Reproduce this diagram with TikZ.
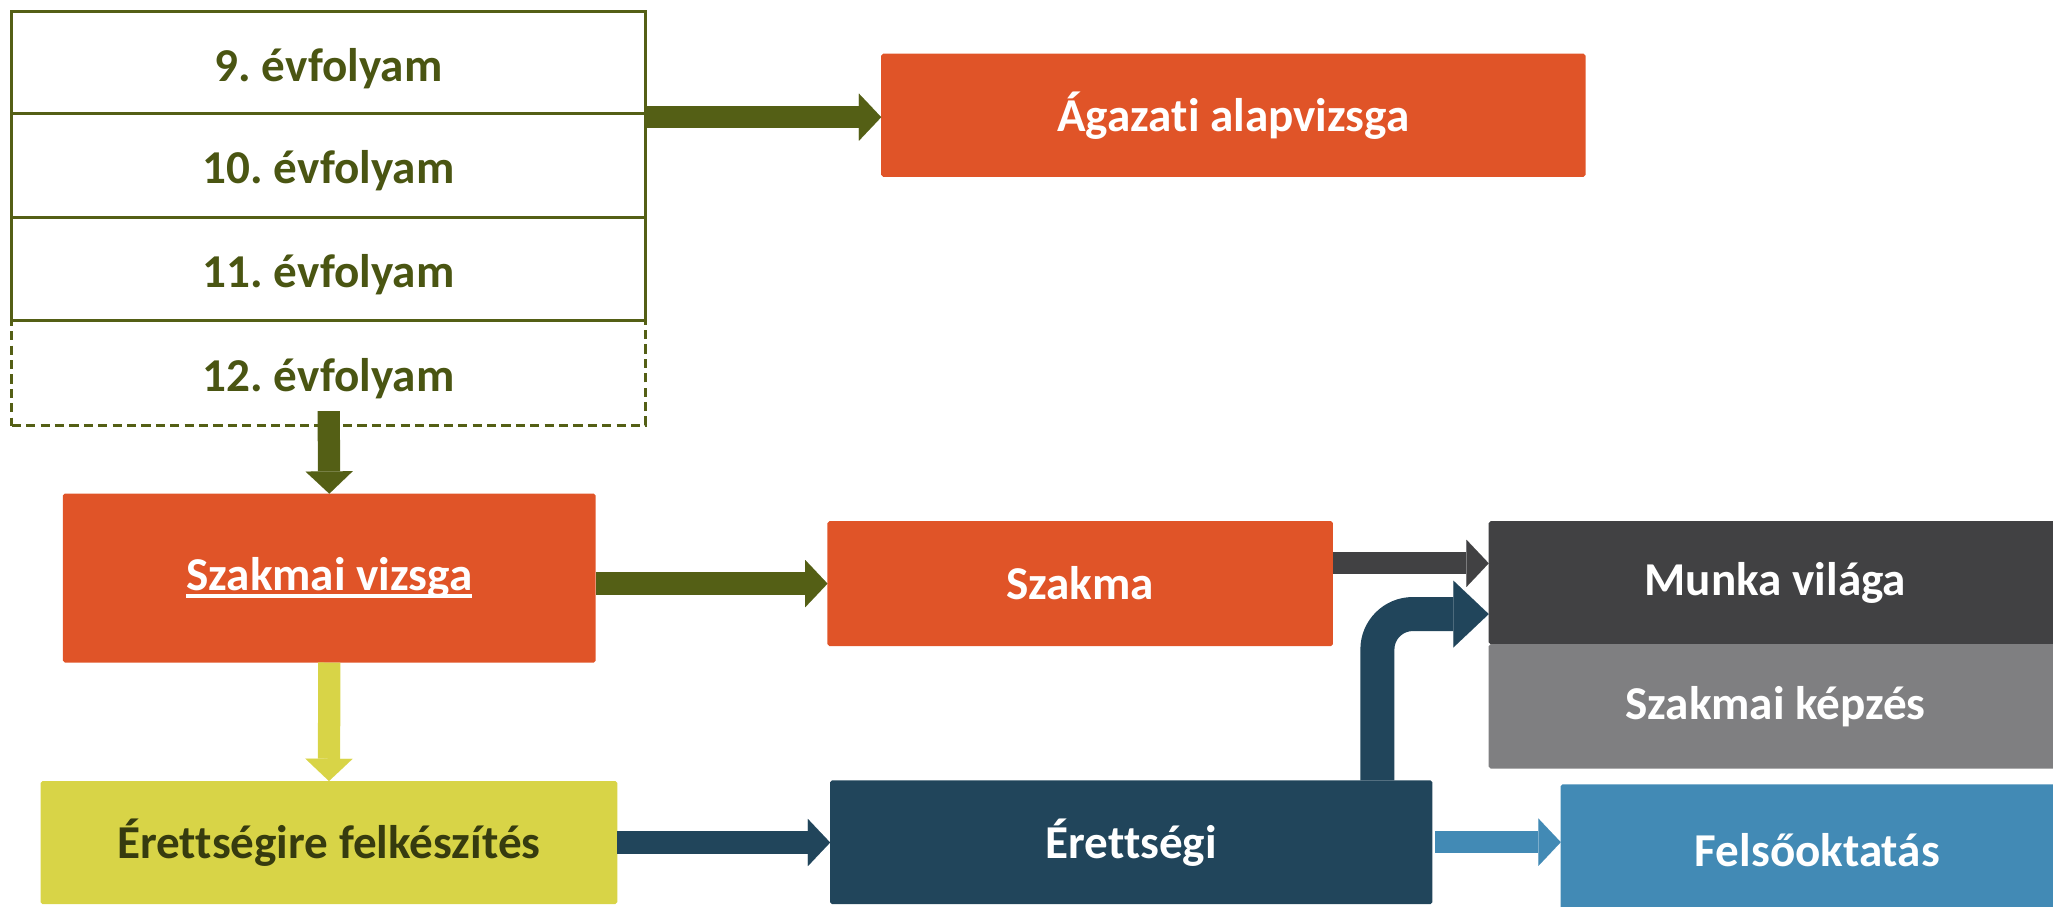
\documentclass[tikz,border=0pt]{standalone}
\usepackage{fontspec}
\setmainfont{Carlito}[Ligatures=NoCommon]
\usetikzlibrary{arrows.meta,calc}
\definecolor{olivec}{HTML}{545F15}
\definecolor{olivetext}{HTML}{4A5512}
\definecolor{orangec}{HTML}{E05428}
\definecolor{yellowc}{HTML}{D8D447}
\definecolor{yeltext}{HTML}{363B0F}
\definecolor{navyc}{HTML}{21455B}
\definecolor{darkg}{HTML}{414143}
\definecolor{midg}{HTML}{7F7F81}
\definecolor{skyc}{HTML}{428AB5}
\newcommand\myul[1]{\setbox0\hbox{#1}\rlap{\vrule height -2.5pt depth 5.5pt width \wd0}\box0}
\frenchspacing
\begin{document}
\begin{tikzpicture}[x=1pt,y=-1pt,
  every node/.style={inner sep=0pt, outer sep=0pt, anchor=north west,
    font=\fontsize{36}{40}\selectfont\bfseries\frenchspacing},
  yearbox/.style={draw=olivec, line width=2.4pt, fill=white, text=olivetext, minimum width=484pt,
    text height=34pt, text depth=6pt},
  cbox/.style={rounded corners=1.5pt, text=white},
  fat/.style={line width=17pt, -{Triangle[width=36pt,length=17pt,line width=0.01pt]}},
  fatter/.style={line width=26pt, -{Triangle[width=51pt,length=27pt,line width=0.01pt]}}]
\useasboundingbox (0,0) rectangle (1568,692);
% year boxes
\node[yearbox, dashed, dash pattern=on 7pt off 4pt, minimum height=80pt] (y12) at (9,245) {12. évfolyam};
\node[yearbox, minimum height=79pt] (y11) at (9,166) {11. évfolyam};
\node[yearbox, minimum height=79pt] (y10) at (9,87) {10. évfolyam};
\node[yearbox, minimum height=78pt] (y9) at (9,9) {9. évfolyam};
% coloured boxes
\node[cbox, fill=orangec, minimum width=538pt, minimum height=94pt] (aga) at (673,41) {Ágazati alapvizsga};
\node[cbox, fill=orangec, minimum width=407pt, minimum height=129pt] (szv) at (48,377) {\myul{Szakmai vizsga}};
\node[cbox, fill=orangec, minimum width=386pt, minimum height=95.5pt] (szk) at (632,398) {Szakma};
\node[cbox, fill=yellowc, text=yeltext, minimum width=440.5pt, minimum height=94pt] (ef) at (31,596.5) {Érettségire felkészítés};
\node[cbox, fill=navyc, minimum width=460pt, minimum height=94.5pt] (eret) at (634,596) {Érettségi};
\node[cbox, fill=darkg, minimum width=438pt, minimum height=94pt] (munka) at (1137,398) {Munka világa};
\node[cbox, fill=midg, minimum width=438pt, minimum height=95pt] (kepz) at (1137,492) {Szakmai képzés};
\node[cbox, fill=skyc, minimum width=392pt, minimum height=100pt] (felso) at (1192,599) {Felsőoktatás};
% connectors
\coordinate (a1) at ($(y9.south east)+(0,2.5)$);
\draw[fat, olivec] (a1) -- (a1 -| aga.west);
\draw[fat, olivec] ($(y12.south)+(0,-11)$) -- (szv.north);
\draw[fat, olivec] (szv.east |- szk.west) -- (szk.west);
\draw[fat, yellowc] (szv.south) -- (ef.north);
\draw[fat, navyc] (ef.east) -- (ef.east -| eret.west);
\coordinate (g1) at ($(szk.east)+(0,-15.5)$);
\draw[fat, darkg] (g1) -- (g1 -| munka.west);
\coordinate (b1) at ($(eret.north)+(188,0)$);
\coordinate (b2) at ($(munka.west)+(0,24)$);
\draw[fatter, navyc, rounded corners=27pt] (b1) -- (b1 |- b2) -- (b2);
\draw[fat, skyc] ($(eret.east)+(2,0)$) -- ($(eret.east -| felso.west)$);
\end{tikzpicture}
\end{document}
